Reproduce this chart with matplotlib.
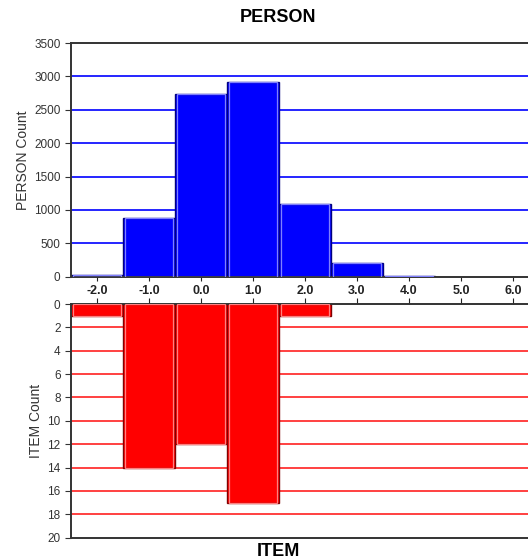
import matplotlib.pyplot as plt

plt.rcParams["font.family"] = ["Liberation Sans", "DejaVu Sans"]

# measure bins (logits), bar width 1
person_bins = [-2, -1, 0, 1, 2, 3, 4]
person_counts = [30, 880, 2740, 2920, 1090, 200, 12]
item_bins = [-2, -1, 0, 1, 2]
item_counts = [1, 14, 12, 17, 1]
xtick_vals = [-2, -1, 0, 1, 2, 3, 4, 5, 6]
xtick_labels = ["-2.0", "-1.0", "0.0", "1.0", "2.0", "3.0", "4.0", "5.0", "6.0"]
person_yticks = [0, 500, 1000, 1500, 2000, 2500, 3000, 3500]
item_yticks = [0, 2, 4, 6, 8, 10, 12, 14, 16, 18, 20]

fig = plt.figure(figsize=(5.28, 5.6), dpi=100)
ax_top = fig.add_axes([0.1345, 0.506, 0.8655, 0.417])
ax_bot = fig.add_axes([0.1345, 0.040, 0.8655, 0.417])

spine_col = "#333333"

# PERSON histogram
for y in person_yticks[1:-1]:
    ax_top.axhline(y, color="#0000ff", lw=1.2, zorder=1)
ax_top.bar(person_bins, person_counts, width=1, color="#0000ff", edgecolor="#000080",
           linewidth=1.0, zorder=2)
ax_top.bar(person_bins, person_counts, width=0.93, color="none", edgecolor="#8080ff",
           linewidth=0.9, zorder=3)
ax_top.set_xlim(-2.5, 6.29)
ax_top.set_ylim(0, 3500)
ax_top.set_yticks(person_yticks)
ax_top.set_xticks(xtick_vals)
ax_top.set_xticklabels(xtick_labels, fontweight="bold")
ax_top.tick_params(axis="x", direction="out", length=3, labelsize=9, pad=3, colors="#222222")
ax_top.tick_params(axis="y", direction="out", length=4, labelsize=8.5, colors="#333333")
ax_top.set_ylabel("PERSON Count", fontsize=10, color="#333333", labelpad=3)
ax_top.spines["right"].set_visible(False)
for s in ["left", "top", "bottom"]:
    ax_top.spines[s].set_color(spine_col)
    ax_top.spines[s].set_linewidth(1.4)

# ITEM histogram (hanging down)
for y in item_yticks[1:-1]:
    ax_bot.axhline(y, color="#ff2020", lw=1.2, zorder=1)
ax_bot.bar(item_bins, item_counts, width=1, color="#ff0000", edgecolor="#800000",
           linewidth=1.0, zorder=2)
ax_bot.bar(item_bins, item_counts, width=0.93, color="none", edgecolor="#ff8080",
           linewidth=0.9, zorder=3)
ax_bot.set_xlim(-2.5, 6.29)
ax_bot.set_ylim(20, 0)
ax_bot.set_yticks(item_yticks)
ax_bot.set_xticks(xtick_vals)
ax_bot.xaxis.tick_top()
ax_bot.tick_params(axis="x", direction="out", length=4, labeltop=False, colors="#222222")
ax_bot.tick_params(axis="y", direction="out", length=4, labelsize=8.5, colors="#333333")
ax_bot.set_ylabel("ITEM Count", fontsize=10, color="#333333", labelpad=3)
ax_bot.spines["right"].set_visible(False)
for s in ["left", "top", "bottom"]:
    ax_bot.spines[s].set_color(spine_col)
    ax_bot.spines[s].set_linewidth(1.4)

fig.text(0.527, 0.968, "PERSON", ha="center", va="center", fontsize=13, fontweight="bold")
fig.text(0.527, 0.016, "ITEM", ha="center", va="center", fontsize=13, fontweight="bold")

fig.savefig("out.png", dpi=100)
